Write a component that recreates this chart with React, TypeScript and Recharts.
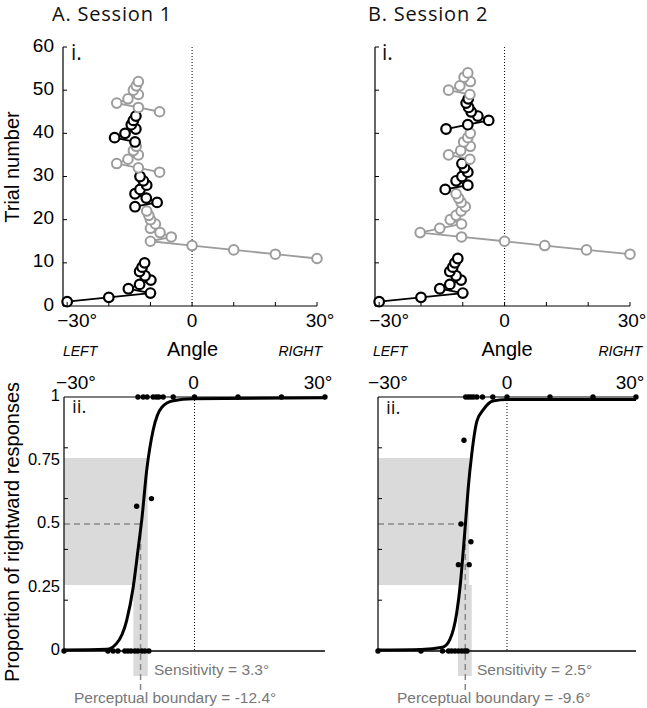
import React from 'react';
import { ComposedChart, Scatter, Line, XAxis, YAxis, ReferenceLine, ReferenceArea } from 'recharts';

// ---------- Panel i: staircases (angle in degrees), each block starts at a trial number ----------
const S1_BLACK_1_START = 1;
const S1_BLACK_1 = [-30, -20, -10, -15.3, -12.6, -9.9, -11.3, -12.6, -12.0, -11.4];
const S1_GRAY_1_START = 11;
const S1_GRAY_1 = [30, 20, 10, 0, -10, -5, -7.7, -10, -8.8, -10, -10.4, -10.9];
const S1_BLACK_2_START = 23;
const S1_BLACK_2 = [-13.7, -8.4, -11, -13.7, -12.5, -10.9, -11.7, -12.5];
const S1_GRAY_2_START = 31;
const S1_GRAY_2 = [-7.8, -12.9, -18.1, -15.4, -12.9, -14.1, -13.4];
const S1_BLACK_3_START = 38;
const S1_BLACK_3 = [-13.7, -18.6, -16.1, -13.5, -14.6, -14.1, -13.5];
const S1_GRAY_3_START = 45;
const S1_GRAY_3 = [-7.8, -12.9, -18.1, -15.4, -12.9, -14.1, -13.4, -12.9];

const S2_BLACK_1_START = 1;
const S2_BLACK_1 = [-30, -20, -10, -15.5, -13.1, -10.4, -11.6, -13.1, -12.4, -11.9, -11.2];
const S2_GRAY_1_START = 12;
const S2_GRAY_1 = [30, 19.6, 9.6, 0, -10.3, -20.2, -15.5, -10.3, -13, -11.6, -10.4, -9.4, -10.4, -11, -11.6];
const S2_BLACK_2_START = 27;
const S2_BLACK_2 = [-14.2, -8.8, -11.6, -10.2, -8.8, -9.6, -10.2];
const S2_GRAY_2_START = 34;
const S2_GRAY_2 = [-8.3, -13.4, -10.5, -8.2, -9.8, -8.8, -8.2];
const S2_BLACK_3_START = 41;
const S2_BLACK_3 = [-14, -8.8, -3.8, -6.4, -8.0, -8.6, -9.2, -8.7];
const S2_GRAY_3_START = 49;
const S2_GRAY_3 = [-8.3, -13.4, -10.7, -8.2, -9.7, -8.8];

// ---------- Panel ii: psychometric data ----------
const S1_RIGHT_ANGLES = [-13.0, -11.8, -10.9, -9.5, -8.8, -8.2, -7.2, -4.9, 0, 10, 20, 30];
const S1_LEFT_ANGLES = [-30, -19.9, -18.7, -17.6, -16.0, -15.3, -14.6, -13.7, -13.0, -12.1, -11.4, -10.5];
const S1_MID_ANGLES = [-13.3, -9.9];
const S1_MID_PROPS = [0.57, 0.6];
const S1_CURVE_ANGLES = [-30, -20.2, -17.9, -15.6, -14.1, -12.9, -12.1, -11.0, -9.5, -7.5, -4.9, -0.3, 30];
const S1_CURVE_PROPS = [0.004, 0.007, 0.03, 0.12, 0.25, 0.41, 0.52, 0.71, 0.87, 0.96, 0.985, 0.993, 0.997];
const S1_BOUNDARY = -12.4;
const S1_SENS_BAND = [-14.05, -10.75];
const S1_BOX_RIGHT = -10.75;

const S2_RIGHT_ANGLES = [-9.6, -9.0, -8.4, -7.8, -7.0, -5.7, -3.3, 0, 10, 20, 30];
const S2_LEFT_ANGLES = [-30, -20, -15, -13.6, -12.9, -12.1, -11.3, -10.5, -9.8, -9.3];
const S2_MID_ANGLES = [-10.0, -10.7, -8.4, -11.3, -8.8];
const S2_MID_PROPS = [0.83, 0.5, 0.43, 0.34, 0.34];
const S2_CURVE_ANGLES = [-30, -20, -15, -13.3, -11.7, -10.9, -10.1, -9.6, -9.0, -8.2, -7.0, -5.5, -3.3, 0, 30];
const S2_CURVE_PROPS = [0.004, 0.006, 0.015, 0.045, 0.15, 0.255, 0.41, 0.515, 0.645, 0.775, 0.905, 0.95, 0.984, 0.99, 0.99];
const S2_BOUNDARY = -9.7;
const S2_SENS_BAND = [-11.4, -8.2];
const S2_BOX_RIGHT = -8.8;

const HALF_BAND = [0.26, 0.76];

const STAIR_X_TICKS = [-30, -20, -10, 0, 10, 20, 30];
const STAIR_Y_TICKS = [0, 10, 20, 30, 40, 50, 60];
const PSY_X_TICKS = [-30, 0, 30];
const PSY_Y_TICKS = [0, 0.2, 0.25, 0.4, 0.5, 0.6, 0.75, 0.8, 1];
const PSY_Y_LABELS = [0, 0.25, 0.5, 0.75, 1];
const PSY_Y_MINOR = [0.2, 0.4, 0.6, 0.8];

const GRAY = '#9c9c9c';
const SHADE = '#dadada';
const FONT = '"Liberation Sans", Arial, sans-serif';
const TFONT = '"Open Sans", sans-serif';

const toBlock = (start: number, angles: number[]) => angles.map((a, i) => ({ x: a, y: start + i }));
const toPts = (xs: number[], ys: number[]) => xs.map((x, i) => ({ x, y: ys[i] }));
const constPts = (xs: number[], v: number) => xs.map((x) => ({ x, y: v }));

const tickLabel = (v: number) => (v === -30 ? '\u221230\u00b0' : v === 0 ? '0' : v === 30 ? '30\u00b0' : '');

// staircase chart geometry (chart coords)
const S_W = 350;
const S_H = 340;
const S_PL = 63;
const S_PT = 47;
const S_PB = 306;

function makeStairXTick(offsets: Record<string, number>) {
  return (props: any) => {
    const { x, payload } = props;
    const v = payload.value;
    const label = tickLabel(v);
    return (
      <g>
        <line x1={x} x2={x} y1={S_PB} y2={S_PB - 4} stroke="#000" strokeWidth={1} />
        {label ? (
          <text x={x + (offsets[String(v)] || 0)} y={S_PB + 21} textAnchor="middle" fontSize={19} fontFamily={FONT} fill="#000">
            {label}
          </text>
        ) : null}
      </g>
    );
  };
}

function makeStairYTick(showLabels: boolean) {
  return (props: any) => {
    const { y, payload } = props;
    return (
      <g>
        <line x1={S_PL} x2={S_PL + 4} y1={y} y2={y} stroke="#000" strokeWidth={1} />
        {showLabels ? (
          <text x={S_PL - 9} y={y - 2} textAnchor="end" dominantBaseline="central" fontSize={19} fontFamily={FONT} fill="#000">
            {payload.value}
          </text>
        ) : null}
      </g>
    );
  };
}

const ringShape = (color: string, sw: number) => (props: any) => {
  const { cx, cy } = props;
  if (cx == null || cy == null) return <g />;
  return <circle cx={cx} cy={cy} r={4.8} fill="#fff" stroke={color} strokeWidth={sw} />;
};

const dotShape = (props: any) => {
  const { cx, cy } = props;
  if (cx == null || cy == null) return <g />;
  return <circle cx={cx} cy={cy} r={2.7} fill="#000" />;
};

function Staircase(props: { blocks: { data: { x: number; y: number }[]; color: string }[]; xOffsets: Record<string, number>; yLabels: boolean; plotRight: number }) {
  const { blocks, xOffsets, yLabels, plotRight } = props;
  return (
    <ComposedChart width={S_W} height={S_H} margin={{ top: S_PT, right: S_W - plotRight, left: S_PL - 40, bottom: S_H - S_PB - 30 }}>
      <XAxis
        type="number"
        dataKey="x"
        domain={[-31, 30]}
        ticks={STAIR_X_TICKS}
        height={30}
        tickLine={false}
        axisLine={{ stroke: '#000', strokeWidth: 1.2 }}
        tick={makeStairXTick(xOffsets)}
        interval={0}
      />
      <YAxis
        type="number"
        dataKey="y"
        domain={[0, 60]}
        ticks={STAIR_Y_TICKS}
        width={40}
        tickLine={false}
        axisLine={{ stroke: '#000', strokeWidth: 1.2 }}
        tick={makeStairYTick(yLabels)}
        interval={0}
      />
      <ReferenceLine x={0} stroke="#000" strokeWidth={1} strokeDasharray="1 2" />
      {blocks.map((b, i) => (
        <Scatter
          key={i}
          data={b.data}
          line={{ stroke: b.color, strokeWidth: 1.8 }}
          lineType="joint"
          shape={ringShape(b.color, b.color === '#000' ? 2.2 : 2)}
          isAnimationActive={false}
        />
      ))}
    </ComposedChart>
  );
}

// psychometric chart geometry (chart coords; chart top at page y 360)
const P_W = 350;
const P_H = 348;
const P_PL = 64;
const P_PT = 37;
const P_PB = 291;

function makePsyXTick(offsets: Record<string, number>) {
  return (props: any) => {
    const { x, payload } = props;
    const v = payload.value;
    return (
      <text x={x + (offsets[String(v)] || 0)} y={P_PT - 8} textAnchor="middle" fontSize={19} fontFamily={FONT} fill="#000">
        {tickLabel(v)}
      </text>
    );
  };
}

function makePsyYTick(showLabels: boolean) {
  return (props: any) => {
    const { y, payload } = props;
    const v = payload.value;
    const minor = PSY_Y_MINOR.includes(v);
    const lab = PSY_Y_LABELS.includes(v);
    return (
      <g>
        {minor ? <line x1={P_PL} x2={P_PL + 4} y1={y} y2={y} stroke="#000" strokeWidth={1} /> : null}
        {showLabels && lab ? (
          <text x={P_PL - 4} y={y - 2} textAnchor="end" dominantBaseline="central" fontSize={16.5} fontFamily={FONT} fill="#000">
            {String(v)}
          </text>
        ) : null}
      </g>
    );
  };
}

function Psychometric(props: {
  curve: { x: number; y: number }[];
  ones: { x: number; y: number }[];
  zeros: { x: number; y: number }[];
  mids: { x: number; y: number }[];
  boundary: number;
  band: number[];
  boxRight: number;
  xOffsets: Record<string, number>;
  yLabels: boolean;
  plotRight: number;
}) {
  const { curve, ones, zeros, mids, boundary, band, boxRight, xOffsets, yLabels, plotRight } = props;
  return (
    <ComposedChart width={P_W} height={P_H} margin={{ top: P_PT - 30, right: P_W - plotRight, left: P_PL - 40, bottom: P_H - P_PB }}>
      <XAxis
        type="number"
        dataKey="x"
        orientation="top"
        domain={[-30, 30]}
        ticks={PSY_X_TICKS}
        height={30}
        tickLine={false}
        axisLine={{ stroke: '#000', strokeWidth: 1.2 }}
        tick={makePsyXTick(xOffsets)}
        interval={0}
      />
      <YAxis
        type="number"
        dataKey="y"
        domain={[0, 1]}
        ticks={PSY_Y_TICKS}
        width={40}
        tickLine={false}
        axisLine={{ stroke: '#000', strokeWidth: 1.2 }}
        tick={makePsyYTick(yLabels)}
        interval={0}
      />
      <ReferenceArea x1={-30} x2={boxRight} y1={HALF_BAND[0]} y2={HALF_BAND[1]} fill={SHADE} fillOpacity={1} stroke="none" ifOverflow="visible" />
      <ReferenceArea x1={band[0]} x2={band[1]} y1={-0.098} y2={HALF_BAND[0]} fill={SHADE} fillOpacity={1} stroke="none" ifOverflow="visible" />
      <ReferenceLine x={0} stroke="#000" strokeWidth={1} strokeDasharray="1 2" />
      <ReferenceLine y={0} stroke="#000" strokeWidth={1.3} />
      <ReferenceLine
        segment={[{ x: -30, y: 0.5 }, { x: boundary, y: 0.5 }]}
        stroke="#888"
        strokeWidth={1.5}
        strokeDasharray="6 4"
        ifOverflow="visible"
      />
      <ReferenceLine
        segment={[{ x: boundary, y: 0.5 }, { x: boundary, y: -0.154 }]}
        stroke="#888"
        strokeWidth={1.5}
        strokeDasharray="6 4"
        ifOverflow="visible"
      />
      <Line data={curve} dataKey="y" type="monotone" stroke="#000" strokeWidth={3} dot={false} isAnimationActive={false} />
      <Scatter data={ones} shape={dotShape} isAnimationActive={false} />
      <Scatter data={zeros} shape={dotShape} isAnimationActive={false} />
      <Scatter data={mids} shape={dotShape} isAnimationActive={false} />
    </ComposedChart>
  );
}

export default function App() {
  const s1Blocks = [
    { data: toBlock(S1_BLACK_1_START, S1_BLACK_1), color: '#000' },
    { data: toBlock(S1_GRAY_1_START, S1_GRAY_1), color: GRAY },
    { data: toBlock(S1_BLACK_2_START, S1_BLACK_2), color: '#000' },
    { data: toBlock(S1_GRAY_2_START, S1_GRAY_2), color: GRAY },
    { data: toBlock(S1_BLACK_3_START, S1_BLACK_3), color: '#000' },
    { data: toBlock(S1_GRAY_3_START, S1_GRAY_3), color: GRAY },
  ];
  const s2Blocks = [
    { data: toBlock(S2_BLACK_1_START, S2_BLACK_1), color: '#000' },
    { data: toBlock(S2_GRAY_1_START, S2_GRAY_1), color: GRAY },
    { data: toBlock(S2_BLACK_2_START, S2_BLACK_2), color: '#000' },
    { data: toBlock(S2_GRAY_2_START, S2_GRAY_2), color: GRAY },
    { data: toBlock(S2_BLACK_3_START, S2_BLACK_3), color: '#000' },
    { data: toBlock(S2_GRAY_3_START, S2_GRAY_3), color: GRAY },
  ];

  return (
    <div style={{ position: 'absolute', left: 0, top: 0, width: 647, height: 708, background: '#fff', overflow: 'hidden' }}>
      <div style={{ position: 'absolute', left: 0, top: 0 }}>
        <Staircase blocks={s1Blocks} xOffsets={{ '-30': 10, '0': 0, '30': 3 }} yLabels={true} plotRight={317} />
      </div>
      <div style={{ position: 'absolute', left: 312, top: 0 }}>
        <Staircase blocks={s2Blocks} xOffsets={{ '-30': 10, '0': 0, '30': 2 }} yLabels={false} plotRight={318} />
      </div>
      <div style={{ position: 'absolute', left: 0, top: 360 }}>
        <Psychometric
          curve={toPts(S1_CURVE_ANGLES, S1_CURVE_PROPS)}
          ones={constPts(S1_RIGHT_ANGLES, 1)}
          zeros={constPts(S1_LEFT_ANGLES, 0)}
          mids={toPts(S1_MID_ANGLES, S1_MID_PROPS)}
          boundary={S1_BOUNDARY}
          band={S1_SENS_BAND}
          boxRight={S1_BOX_RIGHT}
          xOffsets={{ '-30': 12, '0': -1, '30': -7 }}
          yLabels={true}
          plotRight={325}
        />
      </div>
      <div style={{ position: 'absolute', left: 314, top: 360 }}>
        <Psychometric
          curve={toPts(S2_CURVE_ANGLES, S2_CURVE_PROPS)}
          ones={constPts(S2_RIGHT_ANGLES, 1)}
          zeros={constPts(S2_LEFT_ANGLES, 0)}
          mids={toPts(S2_MID_ANGLES, S2_MID_PROPS)}
          boundary={S2_BOUNDARY}
          band={S2_SENS_BAND}
          boxRight={S2_BOX_RIGHT}
          xOffsets={{ '-30': 10, '0': 0, '30': -6 }}
          yLabels={false}
          plotRight={322}
        />
      </div>
      <svg width={647} height={708} style={{ position: 'absolute', left: 0, top: 0, pointerEvents: 'none' }}>
        <text x={52} y={20.5} fontSize={20} letterSpacing={0.8} fontFamily={TFONT} fill="#111">A. Session 1</text>
        <text x={368} y={20.5} fontSize={20} letterSpacing={0.8} fontFamily={TFONT} fill="#111">B. Session 2</text>
        <text x={71} y={60} fontSize={21} fontFamily={TFONT} fill="#111">i.</text>
        <text x={382} y={60} fontSize={21} fontFamily={TFONT} fill="#111">i.</text>
        <text x={72} y={413} fontSize={19} fontFamily={TFONT} fill="#111">ii.</text>
        <text x={386} y={414} fontSize={19} fontFamily={TFONT} fill="#111">ii.</text>
        <text transform="translate(19,167) rotate(-90)" textAnchor="middle" fontSize={20} fontFamily={FONT} fill="#000">Trial number</text>
        <text transform="translate(19,532) rotate(-90)" textAnchor="middle" fontSize={20} fontFamily={FONT} fill="#000">Proportion of rightward responses</text>
        <text x={63} y={356} fontSize={14} fontStyle="italic" fontFamily={FONT} fill="#000">LEFT</text>
        <text x={322} y={356} textAnchor="end" fontSize={14} fontStyle="italic" fontFamily={FONT} fill="#000">RIGHT</text>
        <text x={192.5} y={356} textAnchor="middle" fontSize={20} fontFamily={FONT} fill="#000">Angle</text>
        <text x={373} y={356} fontSize={14} fontStyle="italic" fontFamily={FONT} fill="#000">LEFT</text>
        <text x={642} y={356} textAnchor="end" fontSize={14} fontStyle="italic" fontFamily={FONT} fill="#000">RIGHT</text>
        <text x={507} y={356} textAnchor="middle" fontSize={20} fontFamily={FONT} fill="#000">Angle</text>
        <text x={154} y={675} fontSize={15.5} fontFamily={FONT} fill="#777">Sensitivity = 3.3°</text>
        <text x={74} y={703} fontSize={15.5} fontFamily={FONT} fill="#777">Perceptual boundary = -12.4°</text>
        <text x={477} y={675} fontSize={15.5} fontFamily={FONT} fill="#777">Sensitivity = 2.5°</text>
        <text x={397} y={703} fontSize={15.5} fontFamily={FONT} fill="#777">Perceptual boundary = -9.6°</text>
      </svg>
    </div>
  );
}
